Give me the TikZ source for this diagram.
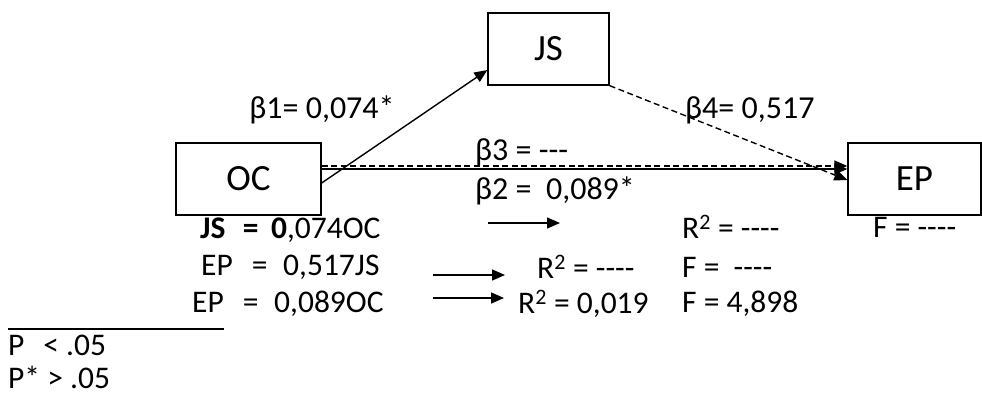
\documentclass[tikz,border=0pt]{standalone}
\usepackage{fontspec}
\setmainfont{Carlito}[Ligatures=TeXOff]
\usetikzlibrary{arrows.meta}
\begin{document}
\begin{tikzpicture}[x=1pt,y=-1pt,
  box/.style={draw, line width=1.3pt, minimum width=#1, minimum height=72pt, inner sep=0pt, font=\fontsize{37}{42}\selectfont},
  lbl/.style={inner sep=0pt, font=\fontsize{32}{38}\selectfont},
  txt/.style={inner sep=0pt, anchor=west, font=\fontsize{31.5}{36}\selectfont},
  conn/.style={line width=1.4pt, -{Triangle[length=13pt,width=11pt]}},
  dsh/.style={conn, dash pattern=on 6pt off 3.5pt}
]
\useasboundingbox (0,0) rectangle (982,394);
% boxes
\node[box=121pt] (JS) at (548.5,49) {JS};
\node[box=145pt] (OC) at (248.5,179) {OC};
\node[box=133pt] (EP) at (914.5,179) {EP};
% connectors
\draw[conn] ([yshift=-4pt]OC.east) -- ([yshift=-21pt]JS.west);
\draw[conn] ([yshift=10pt]OC.east) -- ([yshift=10pt]EP.west);
\draw[dsh] ([yshift=13pt]OC.east) -- ([yshift=13pt]EP.west);
\draw[dsh] (JS.south east) -- ([yshift=-1pt]EP.west);
% path labels
\node[lbl] (b1) at (322,110) {β1= 0,074*};
\node[lbl, anchor=west] (b3) at (475,152) {β3 = ---};
\node[lbl, anchor=west] (b2) at (475,191) {β2 =\ \ 0,089*};
\node[lbl, anchor=west] (b4) at (685,110) {β4= 0,517};
% equations
\node[txt] (e1) at (200,230) {\textbf{JS}\hspace{0.55em}\textbf{=}\hspace{0.4em}\textbf{0},074OC};
\node[txt] (e2) at (201,267) {EP\hspace{0.6em}=\hspace{0.5em}0,517JS};
\node[txt] (e3) at (192,304) {EP\hspace{0.6em}=\hspace{0.5em}0,089OC};
\coordinate (a1s) at (488,223); \coordinate (a1e) at (560,223);
\coordinate (a2s) at (433,275); \coordinate (a2e) at (505,275);
\coordinate (a3s) at (433,298); \coordinate (a3e) at (504,298);
\draw[conn] (a1s) -- (a1e);
\draw[conn] (a2s) -- (a2e);
\draw[conn] (a3s) -- (a3e);
\node[txt] (r1) at (682,227) {R\textsuperscript{2} = ----};
\node[txt] (f1) at (873,227) {F = ----};
\node[txt] (r2) at (537,267) {R\textsuperscript{2} = ----};
\node[txt] (f2) at (682,267) {F =\ \ ----};
\node[txt] (r3) at (518,304) {R\textsuperscript{2} = 0,019};
\node[txt] (f3) at (682,304) {F = 4,898};
% footnote
\coordinate (ls) at (8,329); \coordinate (le) at (224,329);
\draw[line width=1.3pt] (ls) -- (le);
\node[txt] (p1) at (8,345) {P\hspace{0.6em}< .05};
\node[txt] (p2) at (8,377) {P* > .05};
\end{tikzpicture}
\end{document}
